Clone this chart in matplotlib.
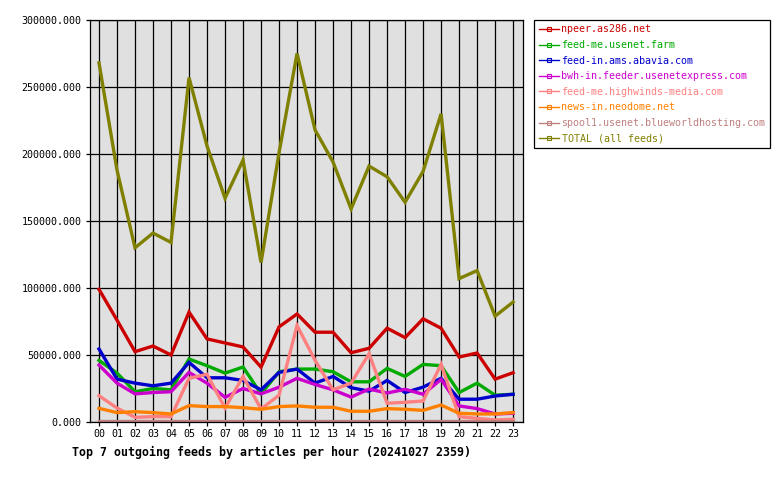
import matplotlib
matplotlib.use("Agg")
import matplotlib.pyplot as plt
from matplotlib.lines import Line2D
from matplotlib.ticker import FuncFormatter, MultipleLocator

# ── Data (articles per hour) ──────────────────────────────────────────────────

HOURS = [f"{h:02d}" for h in range(24)]

npeer = [99000, 76000, 52500, 56700, 50000, 82000, 62000, 59000, 56000, 41000,
         71000, 80600, 67000, 67000, 51700, 55000, 70000, 63000, 77000, 70000,
         48500, 51500, 32000, 36800]
usenet_farm = [46000, 36500, 22600, 25000, 24000, 47000, 42000, 36500, 41000, 21000,
               37500, 39500, 39500, 37500, 30000, 30000, 40000, 34000, 43000, 42000,
               22000, 29000, 20000, 20700]
abavia = [54500, 32000, 29000, 27000, 29000, 44500, 33000, 33000, 31000, 24000,
          37000, 39500, 29000, 34000, 25600, 23000, 31000, 22000, 26000, 32600,
          17000, 17000, 19400, 20700]
usenetexpress = [42500, 29000, 21000, 22000, 22600, 37000, 29000, 18400, 25000, 21000,
                 26000, 32600, 28000, 24000, 18600, 24600, 21600, 24400, 20700, 31800,
                 12000, 10000, 6000, 6500]
highwinds = [19600, 10400, 3500, 4000, 4000, 32600, 35600, 10400, 34000, 9700,
             20000, 72000, 46000, 24000, 29000, 51000, 14000, 14700, 15700, 43000,
             4000, 2700, 1500, 2000]
neodome = [10200, 7000, 7700, 7000, 6000, 12200, 11500, 11500, 10700, 9500,
           11500, 12000, 11000, 11000, 8000, 8000, 10000, 9500, 8700, 12700,
           6500, 6000, 6000, 7000]
blueworld = [1000] * 24
total = [268000, 188000, 130000, 141000, 134000, 257000, 206000, 167000, 195500, 119000,
         201000, 275000, 218000, 194000, 159000, 191000, 183000, 164000, 187000, 230000,
         107000, 113000, 79000, 89500]

SERIES = [
    ("npeer.as286.net",                   npeer,         "#cc0000"),
    ("feed-me.usenet.farm",               usenet_farm,   "#00aa00"),
    ("feed-in.ams.abavia.com",            abavia,        "#0000cc"),
    ("bwh-in.feeder.usenetexpress.com",   usenetexpress, "#cc00cc"),
    ("feed-me.highwinds-media.com",       highwinds,     "#ff8080"),
    ("news-in.neodome.net",               neodome,       "#ff8000"),
    ("spool1.usenet.blueworldhosting.com", blueworld,    "#c08080"),
    ("TOTAL (all feeds)",                 total,         "#808000"),
]

TITLE = "Top 7 outgoing feeds by articles per hour (20241027 2359)"

# ── Figure ────────────────────────────────────────────────────────────────────

W, H = 780, 480
plt.rcParams["font.family"] = "DejaVu Sans Mono"

fig = plt.figure(figsize=(W / 100, H / 100), dpi=100)
ax = fig.add_axes([90 / W, 1 - 422 / H, (523 - 90) / W, (422 - 20) / H])
ax.set_facecolor("#e0e0e0")

x = list(range(len(HOURS)))
for name, vals, col in SERIES:
    ax.plot(x, vals, color=col, lw=2.4, solid_joinstyle="miter", label=name)

ax.set_xlim(-0.5, 23.55)
ax.set_ylim(0, 300000)
ax.set_xticks(x)
ax.set_xticklabels(HOURS)
ax.yaxis.set_major_locator(MultipleLocator(50000))
ax.yaxis.set_major_formatter(FuncFormatter(lambda v, _: f"{v:.3f}"))

ax.set_axisbelow(True)
ax.grid(True, color="black", lw=0.9)
for sp in ax.spines.values():
    sp.set_color("black")
    sp.set_linewidth(0.9)
ax.tick_params(axis="both", length=3, width=0.9, color="black",
               labelsize=7.2, labelcolor="black")
ax.tick_params(axis="y", pad=3)
ax.tick_params(axis="x", pad=2)

fig.text(72 / W, 1 - 452 / H, TITLE, fontsize=8.4, fontweight="bold",
         ha="left", va="center")

# ── Legend ────────────────────────────────────────────────────────────────────

handles = [Line2D([0], [0], color=col, lw=1.0, marker="s", markersize=2.5,
                  markerfacecolor="none", markeredgewidth=0.8)
           for _, _, col in SERIES]
labels = [name for name, _, _ in SERIES]
leg = fig.legend(handles, labels, loc="upper left",
                 bbox_to_anchor=(534 / W, 1 - 20 / H),
                 borderaxespad=0, fontsize=7.2, frameon=True, fancybox=False,
                 edgecolor="black", facecolor="white", framealpha=1,
                 handlelength=2.0, handletextpad=0.3, labelspacing=0.56,
                 borderpad=0.45, labelcolor="linecolor")
leg.get_frame().set_linewidth(0.9)

fig.savefig("out.png", dpi=100)
